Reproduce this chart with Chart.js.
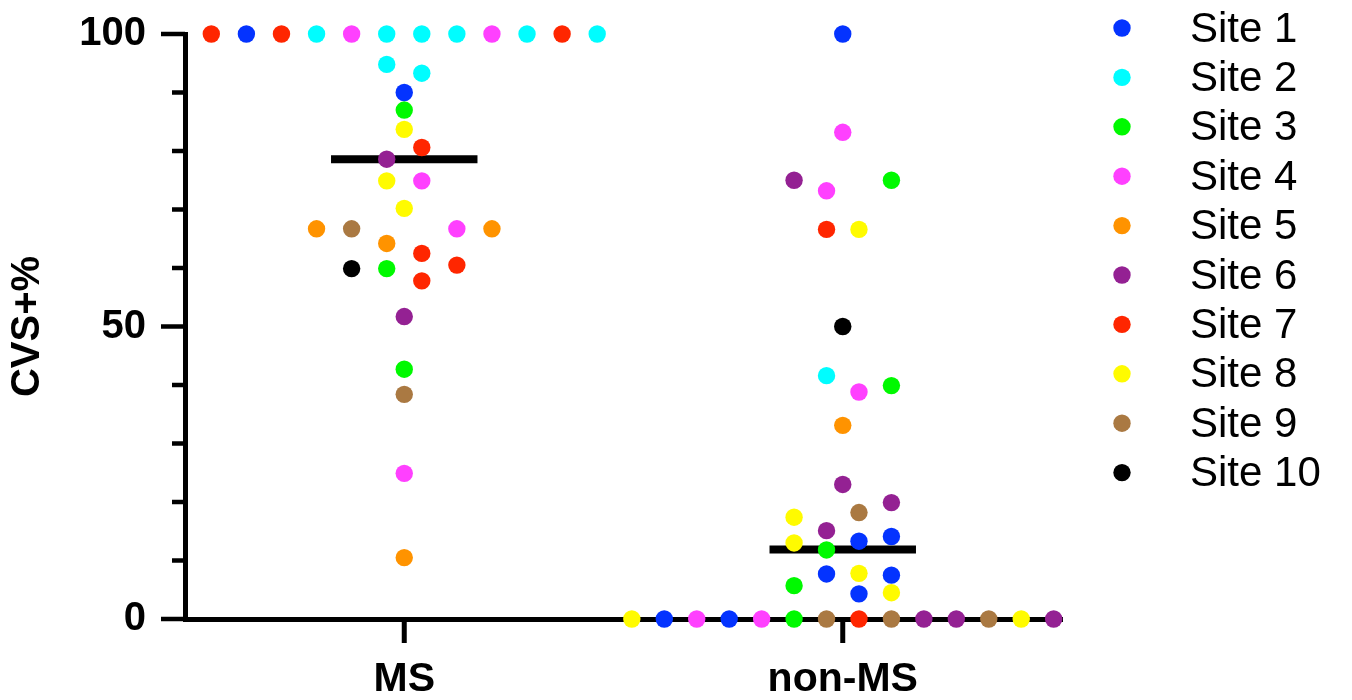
<!DOCTYPE html>
<html>
<head>
<meta charset="utf-8">
<title>CVS+% by site</title>
<script src="https://cdn.jsdelivr.net/npm/chart.js@4.4.1/dist/chart.umd.min.js"></script>
<style>
  html, body { margin: 0; padding: 0; background: #fff; }
  #wrap { width: 1352px; height: 700px; }
</style>
</head>
<body>
<div id="wrap"><canvas id="cvs" width="1352" height="700"></canvas></div>
<script>
// groups on the x axis (MS = 1, non-MS = 2), points are [x, CVS+%]
var groups = ['MS', 'non-MS'];
var siteNames = ['Site 1', 'Site 2', 'Site 3', 'Site 4', 'Site 5', 'Site 6', 'Site 7', 'Site 8', 'Site 9', 'Site 10'];
var yMajorTicks = [0, 50, 100];
var medians = [78.6, 11.9];

var site1 = [[0.64,100],[1.00,90.0],[2.000,100],[2.111,14.1],[2.037,13.3],[1.963,7.7],[2.111,7.5],[2.037,4.3],[1.593,0],[1.741,0]];
var site2 = [[0.80,100],[0.96,100],[1.04,100],[1.12,100],[1.28,100],[1.44,100],[0.96,94.8],[1.04,93.3],[1.963,41.6]];
var site3 = [[1.00,87.0],[0.96,59.9],[1.00,42.7],[2.111,75.0],[2.111,39.9],[1.963,11.8],[1.889,5.7],[1.889,0]];
var site4 = [[0.88,100],[1.20,100],[1.04,74.9],[1.12,66.7],[1.00,24.9],[2.000,83.2],[1.963,73.2],[2.037,38.8],[1.667,0],[1.815,0]];
var site5 = [[0.80,66.7],[1.20,66.7],[0.96,64.2],[1.00,10.5],[2.000,33.1]];
var site6 = [[0.96,78.6],[1.00,51.7],[1.889,75.0],[2.000,23.0],[2.111,19.9],[1.963,15.1],[2.185,0],[2.259,0],[2.481,0]];
var site7 = [[0.56,100],[0.72,100],[1.36,100],[1.04,80.6],[1.04,62.5],[1.12,60.5],[1.04,57.8],[1.963,66.6],[2.037,0]];
var site8 = [[1.00,83.7],[0.96,74.9],[1.00,70.2],[2.037,66.6],[1.889,17.4],[1.889,13.0],[2.037,7.8],[2.111,4.5],[1.519,0],[2.407,0]];
var site9 = [[0.88,66.7],[1.00,38.4],[2.037,18.2],[1.963,0],[2.111,0],[2.333,0]];
var site10 = [[0.88,59.9],[2.000,50.0]];

var siteData = [site1, site2, site3, site4, site5, site6, site7, site8, site9, site10];
var siteColors = ['#0433FF', '#00FDFF', '#00F900', '#FF40FF', '#FF9300', '#942193', '#FF2600', '#FFFB00', '#AA7942', '#000000'];

var FONT = '"Liberation Sans", Arial, Helvetica, sans-serif';
var medianHalf = 0.167;

var datasets = [];
for (var i = 0; i < siteData.length; i++) {
  datasets.push({
    label: siteNames[i],
    data: siteData[i].map(function(p){ return {x: p[0], y: p[1]}; }),
    backgroundColor: siteColors[i],
    borderWidth: 0,
    pointRadius: 8.7,
    pointHoverRadius: 8.7,
    clip: false,
    order: 1
  });
}
// median bars
for (var g = 0; g < groups.length; g++) {
  datasets.push({
    label: 'median ' + groups[g],
    type: 'line',
    data: [{x: g + 1 - medianHalf, y: medians[g]}, {x: g + 1 + medianHalf, y: medians[g]}],
    borderColor: '#000',
    borderWidth: 8,
    borderCapStyle: 'butt',
    pointRadius: 0,
    showLine: true,
    clip: false,
    order: 2
  });
}

// axis tick marks: long ones at the labelled values, short minor ones every 10
var tickPlugin = {
  id: 'tickMarks',
  beforeDatasetsDraw: function(chart) {
    var ctx = chart.ctx, area = chart.chartArea;
    var ys = chart.scales.y, xs = chart.scales.x;
    ctx.save();
    ctx.strokeStyle = '#000';
    ctx.lineCap = 'butt';
    ctx.lineWidth = 4.5;
    for (var v = 0; v <= 100; v += 10) {
      var py = ys.getPixelForValue(v);
      var len = yMajorTicks.indexOf(v) >= 0 ? 24 : 13;
      ctx.beginPath();
      ctx.moveTo(area.left - len, py);
      ctx.lineTo(area.left, py);
      ctx.stroke();
    }
    ctx.lineWidth = 5;
    for (var k = 0; k < groups.length; k++) {
      var px = xs.getPixelForValue(k + 1);
      ctx.beginPath();
      ctx.moveTo(px, area.bottom);
      ctx.lineTo(px, area.bottom + 24);
      ctx.stroke();
    }
    ctx.restore();
  }
};

// legend on the right
var legendPlugin = {
  id: 'siteLegend',
  afterDraw: function(chart) {
    var ctx = chart.ctx;
    ctx.save();
    ctx.font = '42px ' + FONT;
    ctx.textBaseline = 'middle';
    ctx.textAlign = 'left';
    for (var i = 0; i < siteNames.length; i++) {
      var y = 28 + i * 49.4;
      ctx.fillStyle = siteColors[i];
      ctx.beginPath();
      ctx.arc(1122, y, 8.7, 0, Math.PI * 2);
      ctx.fill();
      ctx.fillStyle = '#000';
      ctx.fillText(siteNames[i], 1190, y + 2);
    }
    ctx.restore();
  }
};

new Chart(document.getElementById('cvs'), {
  type: 'scatter',
  data: { datasets: datasets },
  plugins: [tickPlugin, legendPlugin],
  options: {
    responsive: false,
    animation: false,
    layout: { padding: { top: 34, right: 290, bottom: 0, left: 0 } },
    plugins: { legend: { display: false }, tooltip: { enabled: false } },
    scales: {
      x: {
        type: 'linear',
        min: 0.5,
        max: 2.5,
        afterFit: function(s) { s.height = 81; s.paddingLeft = 0; s.paddingRight = 0; },
        afterBuildTicks: function(s) { s.ticks = groups.map(function(n, i){ return {value: i + 1}; }); },
        grid: { display: false, drawTicks: false },
        border: { display: true, width: 5, color: '#000' },
        ticks: {
          autoSkip: false,
          maxRotation: 0,
          padding: 36,
          color: '#000',
          font: { family: FONT, size: 41, weight: 'bold' },
          callback: function(v) { return groups[v - 1]; }
        }
      },
      y: {
        min: 0,
        max: 100,
        afterFit: function(s) { s.width = 185; s.paddingTop = 0; s.paddingBottom = 0; },
        afterBuildTicks: function(s) { s.ticks = yMajorTicks.map(function(v){ return {value: v}; }); },
        grid: { display: false, drawTicks: false },
        border: { display: true, width: 5, color: '#000' },
        title: {
          display: true,
          text: 'CVS+%',
          color: '#000',
          font: { family: FONT, size: 40, weight: 'bold' },
          padding: { top: 4, bottom: 0 }
        },
        ticks: {
          padding: 39,
          color: '#000',
          font: { family: FONT, size: 40, weight: 'bold' }
        }
      }
    }
  }
});
</script>
</body>
</html>
